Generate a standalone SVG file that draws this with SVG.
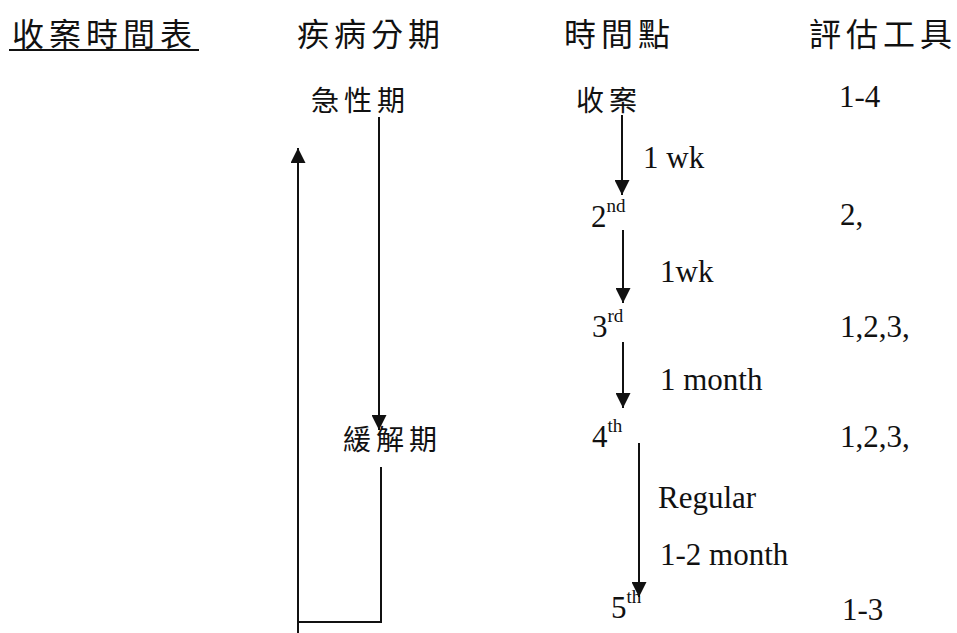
<svg xmlns="http://www.w3.org/2000/svg" width="957" height="633" viewBox="0 0 957 633">
<style>
.hd{font-family:"Noto Sans CJK TC","Noto Sans CJK SC",sans-serif;font-size:32px;letter-spacing:5px;fill:#111}
.cj{font-family:"Noto Sans CJK TC","Noto Sans CJK SC",sans-serif;font-size:28px;letter-spacing:5px;fill:#111}
.lt{font-family:"Liberation Serif","Times New Roman",serif;font-size:31px;fill:#111}
.sup{font-size:19px}
.ln{stroke:#111;stroke-width:2;fill:none}
</style>
<defs>
<marker id="ah" markerUnits="userSpaceOnUse" markerWidth="15" markerHeight="15" refX="15" refY="7.5" orient="auto" viewBox="0 0 15 15">
<path d="M0,0 L15,7.5 L0,15 z" fill="#111"/>
</marker>
</defs>
<rect width="957" height="633" fill="#fff"/>
<g id="headers">
<text class="hd" x="12" y="46">收案時間表</text>
<line class="ln" x1="9" y1="50" x2="199" y2="50"/>
<text class="hd" x="297" y="46">疾病分期</text>
<text class="hd" x="564" y="46">時間點</text>
<text class="hd" x="809" y="46">評估工具</text>
</g>
<g id="acute"><text class="cj" x="311" y="111">急性期</text></g>
<g id="remission"><text class="cj" x="343" y="450">緩解期</text></g>
<g id="t1"><text class="cj" x="576" y="111">收案</text></g>
<g id="t2"><text class="lt" x="591" y="227">2<tspan class="sup" dy="-15">nd</tspan></text></g>
<g id="t3"><text class="lt" x="592" y="337">3<tspan class="sup" dy="-15">rd</tspan></text></g>
<g id="t4"><text class="lt" x="592" y="447">4<tspan class="sup" dy="-15">th</tspan></text></g>
<g id="t5"><text class="lt" x="611" y="618">5<tspan class="sup" dy="-15">th</tspan></text></g>
<g id="tools">
<text class="lt" x="839" y="107">1-4</text>
<text class="lt" x="840" y="225">2,</text>
<text class="lt" x="840" y="337">1,2,3,</text>
<text class="lt" x="840" y="447">1,2,3,</text>
<text class="lt" x="842" y="620">1-3</text>
</g>
<g id="connectors">
<path class="ln" d="M298,633 L298,148" marker-end="url(#ah)"/>
<path class="ln" d="M298,622 L381,622 L381,467"/>
<path class="ln" d="M379,117 L379,430" marker-end="url(#ah)"/>
<path class="ln" d="M622,115 L622,195" marker-end="url(#ah)"/>
<path class="ln" d="M623,230 L623,303" marker-end="url(#ah)"/>
<path class="ln" d="M623,342 L623,408" marker-end="url(#ah)"/>
<path class="ln" d="M639,443 L639,597" marker-end="url(#ah)"/>
<text class="lt" x="643" y="168">1 wk</text>
<text class="lt" x="660" y="282">1wk</text>
<text class="lt" x="660" y="390">1 month</text>
<text class="lt" x="658" y="508">Regular</text>
<text class="lt" x="660" y="565">1-2 month</text>
</g>
</svg>
